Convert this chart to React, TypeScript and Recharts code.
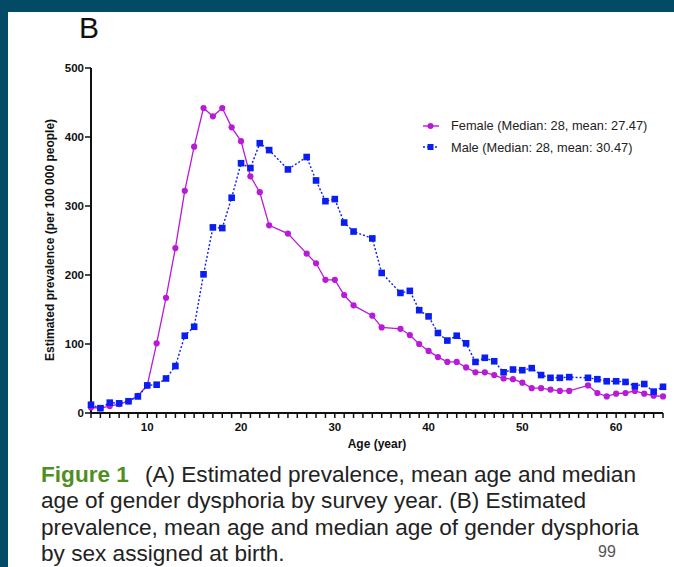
import React from "react"
import { LineChart, Line, XAxis, YAxis, Legend } from "recharts"

// Age (year) of each observation; some ages have no point in the source figure
const ages = [
  4, 5, 6, 7, 8, 9, 10, 11, 12, 13, 14, 15, 16, 17, 18, 19, 20, 21, 22, 23, 25, 27, 28, 29, 30, 31, 32, 34, 35,
  37, 38, 39, 40, 41, 42, 43, 44, 45, 46, 47, 48, 49, 50, 51, 52, 53, 54, 55, 57, 58, 59, 60, 61, 62, 63, 64, 65,
]

// Estimated prevalence per 100 000 people
const female = [
  8, 7, 10, 13, 17, 25, 40, 101, 167, 239, 322, 386, 442, 430, 442, 414, 394, 343, 320, 272, 260, 231, 217, 193, 193,
  171, 156, 141, 124, 122, 113, 100, 90, 81, 74, 74, 66, 59, 59, 55, 50, 49, 44, 36, 36, 34, 32, 32, 40, 29, 24, 28,
  29, 32, 28, 25, 24,
]
const male = [
  12, 7, 15, 14, 17, 24, 40, 41, 50, 68, 112, 125, 201, 269, 268, 312, 362, 355, 391, 381, 353, 371, 337, 307, 310,
  276, 263, 253, 203, 174, 177, 149, 140, 116, 105, 112, 101, 74, 80, 75, 59, 63, 62, 65, 55, 51, 51, 52, 51, 49, 46,
  46, 45, 39, 42, 31, 38,
]

const xTicks = [
  4, 5, 6, 7, 8, 9, 10, 11, 12, 13, 14, 15, 16, 17, 18, 19, 20, 21, 22, 23, 24, 25, 26, 27, 28, 29, 30, 31, 32, 33, 34,
  35, 36, 37, 38, 39, 40, 41, 42, 43, 44, 45, 46, 47, 48, 49, 50, 51, 52, 53, 54, 55, 56, 57, 58, 59, 60, 61, 62, 63,
  64, 65,
]
const xLabels = [10, 20, 30, 40, 50, 60]
const yTicks = [0, 100, 200, 300, 400, 500]

const femaleName = "Female (Median: 28, mean: 27.47)"
const maleName = "Male (Median: 28, mean: 30.47)"

const FEMALE = "#b81ad8"
const MALE = "#0b1ef2"
const BORDER = "#024a66"
const SANS = "'Liberation Sans', Arial, sans-serif"

const data = ages.map((age, i) => ({ age, female: female[i], male: male[i] }))

const femaleDot = (p: any) => <circle key={`f${p.index}`} cx={p.cx} cy={p.cy} r={3.1} fill={FEMALE} />
const maleDot = (p: any) => (
  <rect key={`m${p.index}`} x={p.cx - 3.3} y={p.cy - 3.3} width={6.6} height={6.6} fill={MALE} />
)

function LegendBox() {
  const row = (name: string, color: string, square: boolean) => (
    <div style={{ display: "flex", alignItems: "center", height: 21.5 }}>
      <svg width={28} height={12} style={{ marginRight: 2 }}>
        <line
          x1={2}
          x2={18}
          y1={6}
          y2={6}
          stroke={color}
          strokeWidth={1.4}
          strokeDasharray={square ? "2 2" : undefined}
        />
        {square ? (
          <rect x={6.5} y={3} width={6} height={6} fill={color} />
        ) : (
          <circle cx={9.5} cy={6} r={3} fill={color} />
        )}
      </svg>
      <span style={{ fontSize: 12.8, color: "#222", whiteSpace: "nowrap" }}>{name}</span>
    </div>
  )
  return (
    <div style={{ fontFamily: SANS }}>
      {row(femaleName, FEMALE, false)}
      {row(maleName, MALE, true)}
    </div>
  )
}

const axisFont = { fontSize: 11.5, fontWeight: 700, fill: "#111", fontFamily: SANS }

const YTitle = () => (
  <text
    x={50}
    y={240}
    transform="rotate(-90 50 240)"
    textAnchor="middle"
    dominantBaseline="central"
    fontSize={12}
    fontWeight={700}
    fill="#111"
    fontFamily={SANS}
  >
    Estimated prevalence (per 100 000 people)
  </text>
)

const XTitle = () => (
  <text
    x={377}
    y={444}
    textAnchor="middle"
    dominantBaseline="central"
    fontSize={12}
    fontWeight={700}
    fill="#111"
    fontFamily={SANS}
  >
    Age (year)
  </text>
)

export default function App() {
  return (
    <div
      style={{
        position: "absolute",
        left: 0,
        top: 0,
        width: 674,
        height: 567,
        background: BORDER,
        overflow: "hidden",
      }}
    >
      <div style={{ position: "absolute", left: 8, top: 12, right: 0, bottom: 0, background: "#fff" }} />
      <div style={{ position: "absolute", left: 79, top: 11, fontSize: 30, fontFamily: SANS, color: "#111" }}>B</div>
      <div style={{ position: "absolute", left: 0, top: 0 }}>
        <LineChart width={674} height={567} data={data} margin={{ top: 68, right: 11, left: 51, bottom: 124 }}>
          <XAxis
            dataKey="age"
            type="number"
            domain={[4, 65]}
            ticks={xTicks}
            interval={0}
            tickFormatter={(v: number) => (xLabels.includes(v) ? String(v) : "")}
            tick={axisFont}
            tickSize={5}
            tickMargin={5}
            height={30}
            axisLine={{ stroke: "#111", strokeWidth: 2 }}
            tickLine={{ stroke: "#111", strokeWidth: 1.5 }}
            label={{ content: () => <XTitle /> }}
          />
          <YAxis
            type="number"
            domain={[0, 500]}
            ticks={yTicks}
            interval={0}
            width={40}
            tick={axisFont}
            tickSize={6}
            tickMargin={1}
            axisLine={{ stroke: "#111", strokeWidth: 2 }}
            tickLine={{ stroke: "#111", strokeWidth: 1.5 }}
            label={{ content: () => <YTitle /> }}
          />
          <Legend
            layout="vertical"
            align="center"
            verticalAlign="middle"
            wrapperStyle={{ top: 115, left: 421, width: 250 }}
            content={() => <LegendBox />}
          />
          <Line
            type="linear"
            dataKey="female"
            name={femaleName}
            stroke={FEMALE}
            strokeWidth={1.3}
            dot={femaleDot}
            activeDot={false}
            isAnimationActive={false}
          />
          <Line
            type="linear"
            dataKey="male"
            name={maleName}
            stroke={MALE}
            strokeWidth={1.4}
            strokeDasharray="2 2"
            dot={maleDot}
            activeDot={false}
            isAnimationActive={false}
          />
        </LineChart>
      </div>
      <div
        style={{
          position: "absolute",
          left: 41,
          top: 462,
          fontSize: 22.6,
          lineHeight: "26.3px",
          color: "#222",
          fontFamily: SANS,
          whiteSpace: "nowrap",
        }}
      >
        <div>
          <span style={{ color: "#4f8f22", fontWeight: 700 }}>Figure 1</span>
          <span style={{ marginLeft: 16 }}>(A) Estimated prevalence, mean age and median</span>
        </div>
        <div>age of gender dysphoria by survey year. (B) Estimated</div>
        <div>prevalence, mean age and median age of gender dysphoria</div>
        <div>by sex assigned at birth.</div>
      </div>
      <div
        style={{
          position: "absolute",
          left: 598,
          top: 543,
          fontSize: 16,
          lineHeight: "18px",
          color: "#555",
          fontFamily: SANS,
        }}
      >
        99
      </div>
    </div>
  )
}
